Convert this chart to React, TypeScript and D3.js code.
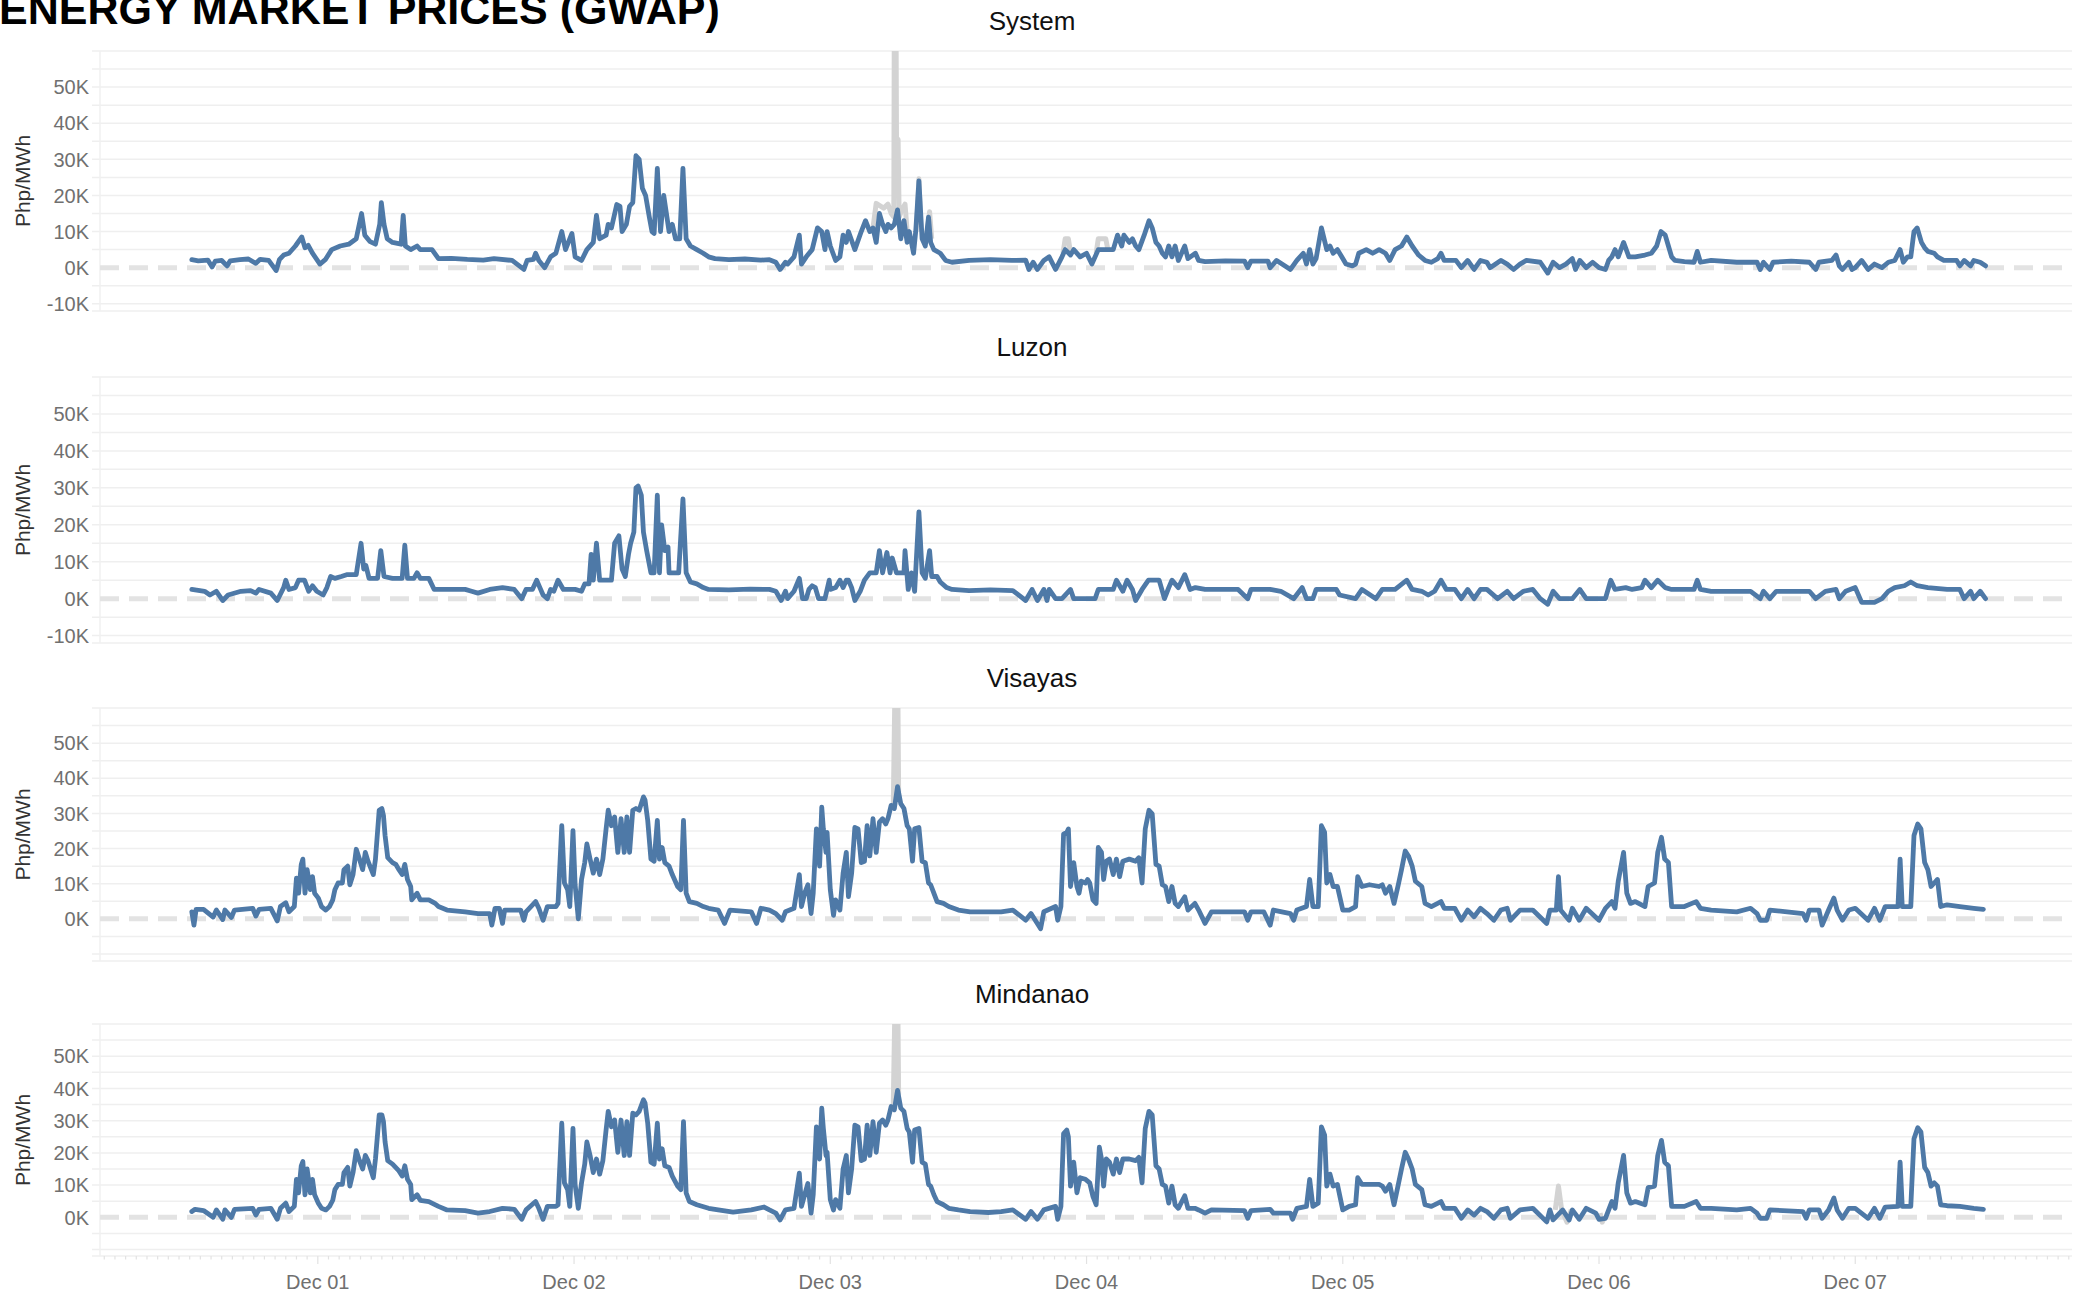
import { useRef, useEffect } from 'react';
import * as d3 from 'd3';

type Pt = [number, number | null];

// hours from Dec 01 00:00, price in thousands of Php/MWh
const SYSTEM: Pt[] = [
  [-11.8,2.2],[-11.2,1.9],[-10.3,2.1],[-9.9,0.2],[-9.6,1.8],[-9.0,2.0],[-8.5,0.5],[-8.2,1.9],[-7.3,2.2],[-6.5,2.4],[-5.8,1.2],[-5.4,2.3],[-4.6,2.0],[-3.9,-0.8],[-3.6,2.2],[-3.2,3.5],[-2.7,4.0],[-2.1,6.0],[-1.5,8.5],[-1.2,5.5],[-0.9,6.2],[-0.5,4.0],[0.2,1.0],[0.7,2.2],[1.3,5.0],[2.1,6.0],[2.9,6.5],[3.6,8.0],[4.1,15.0],[4.4,9.0],[4.9,7.2],[5.4,6.5],[5.8,12.0],[5.95,18.0],[6.2,12.0],[6.5,8.0],[7.0,7.0],[7.8,6.5],[8.0,14.5],[8.2,6.0],[8.7,5.0],[9.3,6.0],[9.6,5.0],[10.7,5.0],[11.3,2.5],[12.5,2.6],[14,2.3],[15.5,2.1],[16.5,2.5],[18.2,2.0],[19.3,-0.5],[19.6,2.0],[20.2,2.3],[20.4,4.0],[20.7,2.0],[21.25,0.0],[21.8,3.0],[22.3,4.0],[22.85,10.0],[23.2,5.0],[23.8,9.5],[24.1,3.0],[24.7,2.0],[25.2,5.0],[25.8,7.0],[26.1,14.5],[26.4,8.0],[27.0,9.0],[27.2,12.0],[27.5,11.0],[28.0,17.5],[28.3,17.0],[28.5,10.0],[28.9,12.0],[29.2,17.0],[29.5,18.0],[29.8,31.0],[30.1,30.0],[30.4,22.0],[30.7,20.0],[31.05,14.0],[31.3,10.0],[31.5,9.5],[31.8,27.5],[32.1,10.0],[32.4,20.0],[32.6,16.0],[32.9,10.0],[33.2,12.0],[33.5,8.0],[33.9,8.0],[34.2,27.5],[34.5,8.0],[34.9,6.0],[35.5,5.0],[36.1,4.0],[36.6,3.0],[37.2,2.5],[38.5,2.2],[40,2.4],[41.5,2.1],[42.3,2.2],[42.9,1.5],[43.3,-0.5],[43.8,1.5],[44.0,1.0],[44.6,3.0],[45.1,9.0],[45.3,1.0],[45.75,3.0],[46.3,5.0],[46.8,11.0],[47.2,10.0],[47.5,5.0],[47.7,10.0],[48.0,6.0],[48.5,2.0],[48.9,3.0],[49.2,9.0],[49.5,7.0],[49.7,10.0],[50.3,5.0],[50.9,10.0],[51.3,13.0],[51.7,10.0],[52.0,11.0],[52.3,7.0],[52.6,15.0],[52.9,12.0],[53.2,10.0],[53.4,12.0],[53.7,11.0],[54.0,12.0],[54.3,16.0],[54.6,8.0],[54.9,13.0],[55.2,7.0],[55.4,10.0],[55.8,4.0],[56.0,10.0],[56.3,24.0],[56.6,8.0],[56.9,6.0],[57.2,14.0],[57.4,7.0],[57.7,5.0],[58.3,4.0],[58.8,2.0],[59.4,1.5],[61,2.0],[63,2.2],[65,2.0],[66.3,2.1],[66.6,-0.5],[67.0,1.5],[67.4,-0.5],[68.0,2.0],[68.5,3.0],[69.1,-0.5],[69.7,3.0],[70.0,5.0],[70.5,3.5],[70.8,5.0],[71.4,3.0],[72.0,4.0],[72.5,1.0],[73.1,5.0],[73.8,5.0],[74.5,5.0],[74.9,9.0],[75.3,6.0],[75.5,9.0],[76.0,7.0],[76.3,8.0],[76.6,6.0],[76.9,5.0],[77.4,9.0],[77.85,13.0],[78.15,11.0],[78.5,7.0],[78.8,6.0],[79.1,4.0],[79.4,3.0],[79.7,6.0],[80.0,3.0],[80.3,6.0],[80.6,2.0],[81.2,6.0],[81.5,2.5],[82.2,4.0],[82.5,2.0],[83.1,1.7],[85,1.9],[86.8,1.8],[87.1,0.0],[87.4,1.8],[89.0,1.8],[89.2,0.0],[89.8,2.0],[91.1,-0.5],[91.7,2.0],[92.3,4.0],[92.6,1.0],[92.9,5.0],[93.2,1.0],[93.5,2.5],[94.0,11.0],[94.5,5.0],[94.8,6.0],[95.1,4.0],[95.5,5.0],[95.9,3.0],[96.3,1.0],[96.9,0.5],[97.2,1.0],[97.5,4.0],[98.2,5.0],[98.8,4.0],[99.4,5.0],[100.0,4.0],[100.4,2.0],[100.9,5.0],[101.5,6.0],[102.0,8.5],[102.5,6.0],[103.1,3.5],[103.7,2.0],[104.3,1.5],[104.9,2.5],[105.2,4.0],[105.5,2.0],[106.6,2.0],[107.1,0.0],[107.7,2.0],[108.3,-0.5],[108.9,2.0],[109.5,1.5],[109.8,0.0],[110.8,2.0],[111.4,1.0],[112.0,-0.5],[112.6,1.0],[113.2,2.0],[114.5,1.5],[115.2,-1.5],[115.7,1.5],[116.3,0.0],[116.9,1.0],[117.5,2.5],[117.8,-0.5],[118.2,2.0],[118.8,0.0],[119.4,1.5],[120.0,0.0],[120.6,-0.5],[120.9,2.0],[121.2,3.0],[121.5,5.0],[121.8,3.0],[122.3,7.0],[122.8,3.0],[123.4,3.0],[124.3,3.5],[124.9,4.0],[125.4,6.0],[125.8,10.0],[126.2,9.0],[126.5,6.0],[126.8,3.0],[127.1,2.0],[128.0,1.7],[128.9,1.5],[129.2,4.5],[129.5,1.5],[130.5,2.0],[132.9,1.5],[134.8,1.5],[135.1,-0.5],[135.4,1.5],[136.0,-0.5],[136.3,1.5],[138,1.8],[139.7,1.5],[140.3,-0.5],[140.6,1.5],[141.8,2.0],[142.2,3.5],[142.5,0.5],[142.8,-0.5],[143.4,1.5],[143.7,-0.5],[144.0,0.0],[144.6,2.0],[145.2,-0.5],[145.8,1.0],[146.5,0.0],[147.1,1.5],[147.7,2.0],[148.2,5.0],[148.5,1.5],[148.9,3.0],[149.2,3.0],[149.5,10.0],[149.8,11.0],[150.2,7.0],[150.5,5.5],[150.8,4.5],[151.4,4.0],[151.7,3.0],[152.3,2.0],[153.5,2.0],[153.8,0.5],[154.2,2.0],[154.8,0.5],[155.1,2.0],[155.7,1.5],[156.2,0.5],
];

const SYSTEM_ALT: Pt[] = [
  [52.0,11],[52.3,17.8],[53.0,16.5],[53.4,17.6],[53.7,15],[53.95,14],[54.0,75],[54.15,75],[54.2,35.5],[54.35,35.5],[54.45,14],[54.7,16],[55.0,17.6],[55.2,10],[55.4,null],
  [56.1,12],[56.3,24.6],[56.5,10],[56.6,null],
  [57.0,8],[57.3,15.5],[57.5,8],[57.6,null],
  [69.8,4],[70.0,8],[70.3,8],[70.5,4],[70.6,null],
  [72.9,4],[73.1,8],[73.8,8],[74.0,5],
];

const LUZON: Pt[] = [
  [-11.8,2.5],[-10.6,2.0],[-10.1,1.0],[-9.5,2.0],[-8.9,-0.5],[-8.4,1.0],[-7.2,2.0],[-6.3,2.2],[-5.8,1.5],[-5.5,2.5],[-4.4,1.5],[-3.8,-0.5],[-3.2,3.0],[-3.0,5.0],[-2.7,2.5],[-2.1,3.0],[-1.8,5.0],[-1.25,5.0],[-0.85,2.0],[-0.5,3.5],[-0.1,2.0],[0.5,1.0],[0.85,3.0],[1.2,6.0],[1.6,5.5],[2.2,6.0],[2.7,6.5],[3.6,6.5],[4.05,15.0],[4.3,8.0],[4.5,9.0],[4.8,5.5],[5.6,5.5],[5.9,13.0],[6.2,6.0],[7.0,5.5],[7.9,5.5],[8.15,14.5],[8.4,5.5],[9.0,5.5],[9.3,7.0],[9.6,5.5],[10.4,5.5],[10.9,2.5],[12.5,2.5],[13.8,2.5],[14.4,2.0],[15.0,1.5],[16.1,2.5],[17.3,3.0],[18.4,2.5],[19.1,0.0],[19.5,2.5],[20.1,2.5],[20.5,5.0],[20.8,3.0],[21.1,1.0],[21.5,0.0],[21.8,2.5],[22.1,2.0],[22.5,5.0],[23.0,2.5],[24.1,2.5],[24.7,2.0],[25.0,4.0],[25.4,4.0],[25.6,12.0],[25.8,5.0],[26.1,15.0],[26.4,5.0],[27.5,5.0],[27.8,15.0],[28.2,17.0],[28.5,8.0],[28.8,6.0],[29.1,12.0],[29.3,15.0],[29.6,18.0],[29.8,30.0],[30.0,30.5],[30.3,28.0],[30.5,18.0],[30.8,13.0],[31.2,7.0],[31.5,7.0],[31.8,28.0],[32.0,7.0],[32.2,20.0],[32.5,13.0],[32.8,14.0],[32.9,7.0],[33.8,7.0],[34.2,27.0],[34.5,7.0],[34.9,4.5],[35.5,4.0],[36.1,3.0],[36.6,2.5],[38.5,2.4],[40.5,2.6],[42.3,2.5],[42.9,2.0],[43.4,-0.5],[43.8,2.0],[44.0,0.0],[44.6,2.0],[45.1,5.5],[45.4,0.0],[45.75,0.0],[46.0,2.5],[46.3,3.5],[46.6,3.0],[46.9,0.0],[47.5,0.0],[47.9,5.0],[48.0,2.5],[48.5,3.0],[48.9,5.0],[49.2,3.0],[49.5,5.0],[49.7,5.0],[50.0,3.0],[50.3,-0.5],[50.8,2.0],[51.2,5.0],[51.7,7.0],[52.3,7.0],[52.6,13.0],[52.9,7.0],[53.3,12.5],[53.6,7.0],[53.8,11.0],[54.2,7.0],[54.9,7.0],[55.0,13.0],[55.3,2.5],[55.6,7.0],[55.9,2.0],[56.3,23.5],[56.6,7.0],[56.9,5.5],[57.3,13.0],[57.5,6.0],[58.0,6.0],[58.3,4.5],[58.9,3.0],[59.4,2.5],[61,2.2],[63,2.4],[65.1,2.2],[66.3,-0.5],[66.9,2.5],[67.4,-0.5],[68.0,2.5],[68.3,-0.5],[68.5,2.5],[69.1,0.0],[69.7,0.0],[70.5,2.5],[70.8,0.0],[72.8,0.0],[73.1,2.5],[74.5,2.5],[74.8,5.0],[75.4,2.0],[75.8,5.0],[76.3,2.5],[76.6,-0.5],[77.2,2.5],[77.8,5.0],[78.8,5.0],[79.3,0.0],[79.7,3.0],[80.0,5.0],[80.6,3.0],[81.2,6.5],[81.7,2.5],[82.2,3.0],[83.1,2.5],[86.2,2.5],[87.1,0.0],[87.4,2.5],[89.2,2.5],[90.2,2.0],[91.4,0.0],[92.2,3.0],[92.6,0.0],[93.2,0.0],[93.5,2.5],[95.4,2.5],[95.7,1.0],[97.2,0.0],[97.8,2.5],[99.1,0.0],[99.7,2.5],[100.9,2.5],[102.0,5.0],[102.5,2.5],[103.4,2.0],[104.0,1.0],[104.6,2.0],[105.2,5.0],[105.7,2.5],[106.5,2.5],[107.1,0.0],[107.7,2.5],[108.3,0.0],[108.9,2.5],[109.5,2.5],[110.5,0.0],[111.4,2.0],[112.0,0.0],[112.9,2.0],[113.8,2.5],[114.5,0.0],[115.2,-1.5],[115.7,2.0],[116.3,0.0],[117.5,0.0],[118.2,2.5],[118.8,0.0],[120.6,0.0],[121.1,5.0],[121.5,2.5],[122.5,3.0],[123.1,2.5],[124.0,3.0],[124.3,5.0],[124.9,3.0],[125.5,5.0],[126.2,3.0],[126.8,2.5],[128.9,2.5],[129.2,5.0],[129.5,2.5],[130.5,2.0],[134.2,2.0],[135.1,0.0],[135.4,2.0],[136.0,0.0],[136.6,2.0],[139.7,2.0],[140.3,0.0],[141.2,2.0],[142.2,2.5],[142.5,0.0],[143.1,2.0],[144.0,3.0],[144.6,-1.0],[145.2,-1.0],[145.8,-1.0],[146.5,0.0],[147.1,2.0],[147.7,3.0],[148.6,3.5],[149.2,4.5],[149.8,3.5],[150.8,3.0],[152.6,2.5],[153.8,2.5],[154.2,0.0],[154.8,2.0],[155.1,0.0],[155.7,2.0],[156.2,0.0],
];

const LUZON_ALT: Pt[] = [];

const VISAYAS: Pt[] = [
  [-11.8,2.0],[-11.6,-1.8],[-11.4,2.7],[-10.7,2.7],[-9.8,0.5],[-9.5,2.5],[-8.9,-0.2],[-8.7,2.5],[-8.1,0.4],[-7.8,2.5],[-6.1,3.0],[-5.8,0.8],[-5.5,2.7],[-4.4,3.0],[-3.8,-0.6],[-3.5,3.5],[-3.0,4.6],[-2.7,2.0],[-2.2,3.5],[-2.0,11.6],[-1.8,7.3],[-1.55,15.5],[-1.4,17.0],[-1.2,7.3],[-1.0,14.0],[-0.7,8.3],[-0.5,12.0],[-0.3,7.3],[0.05,5.9],[0.35,3.5],[0.75,2.5],[1.1,3.5],[1.4,5.4],[1.6,8.3],[1.9,10.2],[2.3,10.2],[2.45,14.0],[2.8,15.0],[3.0,9.7],[3.3,12.6],[3.6,19.8],[3.9,17.0],[4.2,14.0],[4.45,18.9],[4.7,16.4],[5.2,12.6],[5.4,17.0],[5.75,30.9],[6.0,31.4],[6.15,29.4],[6.3,23.7],[6.55,17.4],[7.0,16.0],[7.3,15.5],[7.6,14.0],[7.9,12.6],[8.15,15.5],[8.4,11.2],[8.7,9.2],[8.8,5.4],[9.3,7.3],[9.6,5.4],[10.4,5.4],[11.0,4.4],[11.3,3.5],[12.1,2.5],[13.8,2.0],[15.0,1.5],[16.1,1.5],[16.3,-1.8],[16.6,3.0],[17.0,3.0],[17.3,-1.3],[17.5,2.5],[19.0,2.5],[19.3,-0.4],[19.5,2.0],[20.4,4.9],[20.7,3.0],[21.1,-0.4],[21.5,3.5],[22.3,3.5],[22.5,4.4],[22.85,26.5],[23.1,10.2],[23.4,8.3],[23.6,3.5],[23.9,25.1],[24.1,9.7],[24.4,0.0],[24.7,11.2],[25.0,16.0],[25.2,21.3],[25.5,17.0],[25.8,13.0],[26.1,17.0],[26.4,12.6],[26.7,17.0],[27.0,25.6],[27.2,30.9],[27.5,26.5],[27.8,29.0],[28.1,18.9],[28.4,28.5],[28.7,18.9],[28.95,29.0],[29.2,18.9],[29.5,30.9],[29.8,31.4],[30.1,30.9],[30.5,34.7],[30.65,33.8],[30.9,28.0],[31.2,17.0],[31.5,16.4],[31.8,28.0],[32.0,17.0],[32.25,20.3],[32.5,16.0],[32.9,15.0],[33.2,12.6],[33.7,9.2],[34.0,8.3],[34.25,28.0],[34.5,7.3],[34.8,4.9],[35.5,4.4],[36.1,3.5],[36.6,3.0],[37.5,2.5],[38.1,-1.3],[38.6,2.5],[40.6,2.0],[41.1,-1.3],[41.5,3.0],[42.3,2.5],[42.9,1.5],[43.5,-0.4],[43.8,2.0],[44.6,3.0],[45.1,12.6],[45.3,3.5],[45.6,7.3],[45.9,9.7],[46.2,1.5],[46.4,7.3],[46.7,25.6],[47.0,15.0],[47.2,31.8],[47.35,25.6],[47.6,18.9],[47.7,24.6],[48.0,8.3],[48.3,1.0],[48.5,5.4],[48.9,2.5],[49.2,13.0],[49.5,18.9],[49.7,6.3],[50.0,13.0],[50.3,26.0],[50.6,25.6],[50.9,16.0],[51.2,16.4],[51.45,26.5],[51.7,17.9],[52.0,28.5],[52.3,18.9],[52.6,27.5],[52.9,28.5],[53.2,27.0],[53.4,28.5],[53.7,32.3],[54.0,31.4],[54.3,37.6],[54.6,32.8],[54.9,31.4],[55.2,26.5],[55.4,25.6],[55.7,16.4],[55.9,25.6],[56.3,26.0],[56.6,16.4],[56.9,16.0],[57.2,10.2],[57.4,9.7],[57.7,7.3],[58.0,4.9],[58.6,4.4],[59.1,3.5],[60.0,2.5],[61.1,2.0],[62.8,2.0],[64.0,2.0],[65.1,2.5],[66.3,-0.4],[66.8,1.5],[67.7,-2.8],[68.0,2.0],[69.1,3.5],[69.3,-0.4],[69.6,3.5],[69.85,24.1],[70.15,24.6],[70.3,25.6],[70.5,9.2],[70.8,16.0],[71.1,9.2],[71.3,7.3],[71.5,10.7],[71.9,10.2],[72.1,11.2],[72.3,10.2],[72.6,5.4],[72.9,4.4],[73.1,20.3],[73.4,18.9],[73.6,11.2],[73.85,16.4],[74.15,17.0],[74.5,12.6],[74.8,17.0],[75.1,12.0],[75.4,16.4],[76.0,17.0],[76.6,16.4],[76.9,17.4],[77.2,10.2],[77.5,25.6],[77.85,30.9],[78.15,29.9],[78.5,15.5],[78.8,15.0],[79.1,9.7],[79.4,9.2],[79.7,4.9],[80.0,9.2],[80.3,4.4],[80.6,3.5],[81.2,6.3],[81.5,2.5],[82.15,4.4],[82.5,2.5],[83.1,-1.3],[83.7,2.0],[86.8,2.0],[87.1,-0.4],[87.4,2.0],[88.6,2.0],[89.2,-1.8],[89.5,2.5],[91.1,1.5],[91.4,-0.4],[91.7,2.5],[92.6,3.5],[92.9,11.2],[93.2,3.5],[93.7,3.5],[94.0,26.5],[94.3,24.6],[94.5,10.2],[94.8,12.6],[95.1,9.2],[95.5,9.2],[96.0,2.5],[96.6,2.5],[97.2,3.5],[97.4,12.0],[97.8,9.2],[98.5,9.7],[99.4,9.2],[99.7,9.7],[100.0,7.3],[100.4,9.2],[100.8,4.4],[101.2,9.7],[101.5,14.0],[101.85,19.3],[102.15,17.9],[102.5,15.0],[102.8,10.7],[103.4,9.2],[103.7,4.4],[104.3,3.5],[105.2,4.9],[105.5,3.0],[106.5,3.0],[107.1,-0.4],[107.7,2.5],[108.3,0.6],[108.9,3.0],[109.5,1.5],[110.15,-0.4],[110.8,2.5],[111.4,3.0],[111.7,-0.4],[112.6,2.5],[113.8,2.5],[115.1,-1.3],[115.4,2.5],[116.0,2.5],[116.2,12.0],[116.4,2.5],[117.2,-0.4],[117.5,3.0],[118.15,-0.4],[118.8,3.0],[120.0,-0.4],[120.6,3.0],[121.2,4.9],[121.5,3.0],[121.8,10.7],[122.3,18.9],[122.6,7.3],[122.95,4.4],[123.4,4.9],[124.3,3.5],[124.6,9.2],[125.2,10.2],[125.5,18.9],[125.85,23.2],[126.15,17.0],[126.5,16.0],[126.8,3.5],[128.0,3.5],[129.1,4.9],[129.5,3.0],[130.5,2.5],[132.9,2.0],[134.2,3.0],[134.8,1.5],[135.1,-0.4],[135.7,-0.4],[136.0,2.5],[139.1,1.5],[139.4,-0.4],[139.7,2.5],[140.6,2.5],[140.9,-1.8],[141.5,2.5],[142.0,5.9],[142.3,2.5],[142.8,-0.4],[143.4,2.5],[144.0,3.0],[145.2,-0.4],[145.8,3.0],[146.3,-0.4],[146.8,3.5],[148.0,3.5],[148.2,17.0],[148.4,3.5],[149.2,3.5],[149.5,23.7],[149.85,27.0],[150.15,25.6],[150.5,16.0],[150.8,14.0],[151.1,9.2],[151.4,10.2],[151.7,11.2],[152.0,3.5],[152.6,4.0],[153.8,3.5],[155.1,3.0],[156.0,2.7],
];

const VISAYAS_ALT: Pt[] = [[53.9,32],[54.1,75],[54.3,75],[54.4,36]];

const MINDANAO: Pt[] = [
  [-11.8,1.8],[-11.5,2.5],[-10.7,2.1],[-9.8,0.0],[-9.5,2.3],[-8.9,-0.6],[-8.7,2.3],[-8.1,0.0],[-7.8,2.5],[-6.1,2.8],[-5.8,0.7],[-5.5,2.5],[-4.4,2.8],[-3.8,-0.6],[-3.5,2.8],[-3.0,4.4],[-2.7,1.8],[-2.2,3.4],[-2.0,11.8],[-1.8,7.6],[-1.55,16.0],[-1.4,17.3],[-1.2,7.0],[-1.0,15.0],[-0.7,7.6],[-0.5,11.8],[-0.3,7.0],[0.05,4.4],[0.35,2.8],[0.75,2.3],[1.1,3.4],[1.4,5.3],[1.6,8.6],[1.9,10.2],[2.3,10.2],[2.45,13.9],[2.8,15.5],[3.0,9.7],[3.3,13.9],[3.6,20.7],[3.9,17.6],[4.2,15.0],[4.45,19.2],[4.7,17.6],[5.2,12.3],[5.4,18.1],[5.75,31.8],[6.0,31.8],[6.15,29.7],[6.3,23.4],[6.55,17.6],[7.0,16.5],[7.6,14.4],[7.9,12.8],[8.15,16.0],[8.4,11.8],[8.7,10.2],[8.8,5.5],[9.3,7.0],[9.6,5.3],[10.4,4.9],[11.3,3.4],[12.1,2.3],[13.8,2.1],[15.0,1.3],[16.1,1.8],[17.3,2.8],[18.4,2.5],[19.1,-0.6],[19.5,2.3],[20.4,4.9],[20.7,2.8],[21.1,-0.6],[21.5,3.4],[22.3,3.4],[22.5,3.9],[22.85,29.2],[23.1,10.7],[23.4,8.6],[23.6,3.4],[23.9,27.6],[24.1,10.2],[24.4,2.8],[24.7,10.7],[25.0,16.5],[25.2,23.4],[25.5,19.2],[25.8,13.9],[26.1,18.1],[26.4,13.4],[26.7,17.6],[27.0,27.1],[27.2,32.9],[27.5,28.1],[27.8,30.2],[28.1,20.2],[28.4,30.2],[28.7,19.2],[28.95,29.7],[29.2,19.2],[29.5,32.3],[29.8,31.8],[30.1,32.9],[30.5,36.5],[30.65,35.5],[30.9,29.2],[31.2,17.1],[31.5,16.5],[31.8,29.2],[32.0,18.1],[32.25,21.3],[32.5,16.0],[32.9,15.5],[33.2,12.8],[33.7,9.7],[34.0,8.6],[34.25,29.7],[34.5,7.6],[34.8,4.9],[35.5,3.9],[36.6,2.8],[37.5,2.3],[38.9,1.6],[40.6,2.3],[41.8,3.2],[42.3,2.3],[42.9,1.3],[43.3,-0.8],[43.8,2.3],[44.6,2.8],[45.1,13.7],[45.3,3.4],[45.6,7.0],[45.9,10.5],[46.2,1.3],[46.4,7.0],[46.7,28.1],[47.0,18.1],[47.2,33.9],[47.35,27.6],[47.6,19.2],[47.7,20.2],[48.0,5.5],[48.3,2.3],[48.5,5.5],[48.9,2.8],[49.2,15.0],[49.5,19.2],[49.7,7.6],[50.0,15.0],[50.3,28.6],[50.6,28.1],[50.9,17.6],[51.2,18.1],[51.45,28.6],[51.7,19.2],[52.0,29.7],[52.3,20.2],[52.6,29.2],[52.9,30.2],[53.2,28.6],[53.4,30.2],[53.7,34.4],[54.0,33.4],[54.3,39.4],[54.6,33.9],[54.9,32.9],[55.2,27.6],[55.4,26.5],[55.7,17.1],[55.9,27.1],[56.3,27.6],[56.6,17.1],[56.9,16.5],[57.2,10.2],[57.4,9.7],[57.7,7.0],[58.0,4.9],[58.6,3.9],[59.1,2.8],[60.0,2.3],[61.1,1.8],[62.8,1.5],[64.0,1.8],[65.1,2.3],[66.3,-0.6],[66.8,1.8],[67.4,-0.6],[68.0,2.3],[69.1,3.4],[69.3,-0.6],[69.6,3.4],[69.85,26.0],[70.15,27.1],[70.3,25.0],[70.5,9.7],[70.8,17.1],[71.1,7.6],[71.4,12.3],[71.9,11.8],[72.3,10.7],[72.6,6.5],[72.9,3.9],[73.2,21.8],[73.4,18.1],[73.6,9.7],[73.85,18.1],[74.15,17.1],[74.5,13.4],[74.8,18.1],[75.1,13.9],[75.4,18.1],[76.0,18.1],[76.6,17.6],[76.9,18.6],[77.2,10.7],[77.5,27.6],[77.85,32.9],[78.15,31.8],[78.5,16.0],[78.8,15.0],[79.1,10.2],[79.4,9.7],[79.7,4.4],[80.0,9.7],[80.3,3.9],[80.6,2.8],[81.2,6.7],[81.5,2.8],[82.15,2.8],[82.5,2.3],[83.1,1.3],[83.7,2.3],[86.8,2.1],[87.1,-0.3],[87.4,2.1],[89.2,2.5],[89.5,1.3],[91.1,1.3],[91.3,-0.6],[91.7,2.8],[92.6,3.4],[92.9,11.8],[93.2,3.4],[93.7,4.4],[94.0,28.1],[94.3,25.5],[94.5,9.7],[94.8,13.4],[95.1,9.7],[95.5,10.2],[96.0,2.3],[96.6,3.4],[97.2,3.9],[97.4,12.3],[97.8,10.2],[98.5,10.2],[99.4,10.2],[99.7,9.7],[100.0,8.1],[100.4,10.2],[100.8,3.9],[101.2,10.2],[101.5,15.0],[101.85,20.2],[102.15,18.1],[102.5,15.0],[102.8,10.2],[103.4,8.6],[103.7,3.9],[104.3,3.4],[105.2,4.9],[105.5,2.8],[106.5,2.8],[107.1,-0.3],[107.7,2.3],[108.3,0.7],[108.9,2.8],[109.5,1.8],[110.15,-0.3],[110.8,2.3],[111.4,2.8],[111.7,-0.3],[112.6,2.3],[113.8,2.8],[115.1,-1.4],[115.4,2.3],[115.7,-0.8],[116.6,2.3],[117.2,-0.8],[117.5,2.3],[118.15,-0.6],[118.8,2.8],[119.7,1.3],[120.0,-0.6],[120.6,-0.3],[121.2,4.9],[121.5,2.8],[121.8,10.7],[122.3,19.2],[122.6,7.6],[122.95,4.4],[123.4,4.9],[124.3,3.9],[124.6,9.2],[125.2,9.7],[125.5,19.2],[125.85,23.9],[126.15,17.1],[126.5,16.0],[126.8,3.4],[128.0,3.4],[129.1,4.9],[129.5,2.8],[130.5,2.8],[132.9,2.3],[134.2,2.8],[134.8,1.3],[135.1,-0.3],[135.7,-0.3],[136.0,2.3],[139.1,1.8],[139.4,-0.3],[139.7,2.3],[140.6,2.3],[140.9,-0.3],[141.5,2.3],[142.0,6.0],[142.3,2.3],[142.8,-0.3],[143.4,2.8],[144.0,2.8],[145.2,-0.3],[145.8,2.8],[146.3,-0.3],[146.8,3.2],[148.0,3.4],[148.2,17.1],[148.4,3.4],[149.2,3.4],[149.5,24.4],[149.85,27.8],[150.15,26.5],[150.5,15.5],[150.8,13.9],[151.1,9.7],[151.4,10.7],[151.7,9.7],[152.0,3.9],[152.6,3.6],[153.8,3.4],[155.1,2.8],[156.0,2.5],
];

const MINDANAO_ALT: Pt[] = [
  [53.9,35],[54.1,75],[54.3,75],[54.4,38],[54.5,null],
  [115.9,2.3],[116.2,9.7],[116.5,2.3],[117.0,-1.5],[117.4,2.3],[117.5,null],
  [120.1,1.3],[120.3,-1.5],[120.5,0],
];

const REGIONS = ['System', 'Luzon', 'Visayas', 'Mindanao'];
const Y_LABELS = [-10, 0, 10, 20, 30, 40, 50];
const DAY_TICKS = [0, 24, 48, 72, 96, 120, 144];

const BASE = Date.UTC(2023, 11, 1);
const toDate = (h: number) => new Date(BASE + h * 3600e3);

const FONT = '"Liberation Sans", Arial, sans-serif';

export default function App() {
  const svgRef = useRef<SVGSVGElement>(null);

  useEffect(() => {
    if (!svgRef.current) return;
    const width = 2077;
    const height = 1292;
    const left = 100;
    const right = 2072;

    const svg = d3.select(svgRef.current);
    svg.selectAll('*').remove();
    svg.attr('width', width).attr('height', height);

    svg.append('rect').attr('width', width).attr('height', height).attr('fill', 'white');

    const x = d3.scaleUtc().domain([toDate(-20.4), toDate(164.3)]).range([left, right]);

    // panel layout: plot top / bottom in px
    const panels = [
      { top: 51, bottom: 311, blue: SYSTEM, alt: SYSTEM_ALT, neg: true },
      { top: 377, bottom: 643, blue: LUZON, alt: LUZON_ALT, neg: true },
      { top: 708, bottom: 961, blue: VISAYAS, alt: VISAYAS_ALT, neg: false },
      { top: 1024, bottom: 1256, blue: MINDANAO, alt: MINDANAO_ALT, neg: false },
    ];

    // Title (sits against the top edge, as in the dashboard)
    svg.append('text')
      .attr('x', -1).attr('y', 24)
      .attr('font-family', FONT).attr('font-weight', 'bold').attr('font-size', 43)
      .attr('fill', '#000')
      .text('ENERGY MARKET PRICES (GWAP)');

    panels.forEach((p, i) => {
      const y = d3.scaleLinear().domain([-12, 60]).range([p.bottom, p.top]);
      const g = svg.append('g');

      // region title
      g.append('text')
        .attr('x', 1032).attr('y', p.top - 21)
        .attr('text-anchor', 'middle')
        .attr('font-family', FONT).attr('font-size', 26).attr('fill', '#111')
        .text(REGIONS[i]);

      // grid lines every 5K
      g.append('g')
        .selectAll('line')
        .data(d3.range(-10, 61, 5).filter(v => v !== 0))
        .join('line')
        .attr('x1', left - 8).attr('x2', right)
        .attr('y1', d => y(d)).attr('y2', d => y(d))
        .attr('stroke', '#efefef').attr('stroke-width', 1.5);

      // bottom border + left axis
      g.append('line')
        .attr('x1', left - 8).attr('x2', right)
        .attr('y1', y(-12)).attr('y2', y(-12))
        .attr('stroke', '#efefef').attr('stroke-width', 1.5);
      g.append('line')
        .attr('x1', left).attr('x2', left)
        .attr('y1', y(60)).attr('y2', y(-12))
        .attr('stroke', '#f0f0f0').attr('stroke-width', 1.5);

      // y tick labels
      g.append('g')
        .selectAll('text')
        .data(Y_LABELS.filter(v => p.neg || v >= 0))
        .join('text')
        .attr('x', 89).attr('y', d => y(d))
        .attr('dy', '0.36em')
        .attr('text-anchor', 'end')
        .attr('font-family', FONT).attr('font-size', 20).attr('fill', '#707070')
        .text(d => `${d}K`);

      // y axis title
      g.append('text')
        .attr('transform', `translate(22,${(p.top + p.bottom) / 2}) rotate(-90)`)
        .attr('text-anchor', 'middle').attr('dy', '0.36em')
        .attr('font-family', FONT).attr('font-size', 21).attr('fill', '#333')
        .text('Php/MWh');

      // zero reference line
      g.append('line')
        .attr('x1', left).attr('x2', right)
        .attr('y1', y(0)).attr('y2', y(0))
        .attr('stroke', '#e3e3e3').attr('stroke-width', 5)
        .attr('stroke-dasharray', '19 10');

      const clipId = `clip-${i}`;
      svg.append('clipPath').attr('id', clipId)
        .append('rect')
        .attr('x', left).attr('y', p.top)
        .attr('width', right - left).attr('height', p.bottom - p.top);

      const line = d3.line<Pt>()
        .defined(d => d[1] !== null)
        .x(d => x(toDate(d[0])))
        .y(d => y(d[1] as number));

      const plot = g.append('g').attr('clip-path', `url(#${clipId})`);
      if (p.alt.length) {
        plot.append('path')
          .attr('d', line(p.alt))
          .attr('fill', 'none').attr('stroke', '#d3d3d3')
          .attr('stroke-width', 5).attr('stroke-linejoin', 'round');
      }
      plot.append('path')
        .attr('d', line(p.blue))
        .attr('fill', 'none').attr('stroke', '#4e79a7')
        .attr('stroke-width', 4.8).attr('stroke-linejoin', 'round').attr('stroke-linecap', 'round');

      // x axis on last panel
      if (i === panels.length - 1) {
        const base = p.bottom;
        g.append('g')
          .selectAll('line')
          .data(d3.range(-20, 165, 1))
          .join('line')
          .attr('x1', d => x(toDate(d))).attr('x2', d => x(toDate(d)))
          .attr('y1', base).attr('y2', d => base + (DAY_TICKS.includes(d) ? 8 : 3.5))
          .attr('stroke', '#e2e2e2').attr('stroke-width', 1.2);

        g.append('g')
          .selectAll('text')
          .data(DAY_TICKS)
          .join('text')
          .attr('x', d => x(toDate(d))).attr('y', 1289)
          .attr('text-anchor', 'middle')
          .attr('font-family', FONT).attr('font-size', 20).attr('fill', '#707070')
          .text(d => d3.utcFormat('%b %d')(toDate(d)));
      }
    });
  }, []);

  return <svg ref={svgRef} style={{ position: 'absolute', left: 0, top: 0, display: 'block' }} />;
}
